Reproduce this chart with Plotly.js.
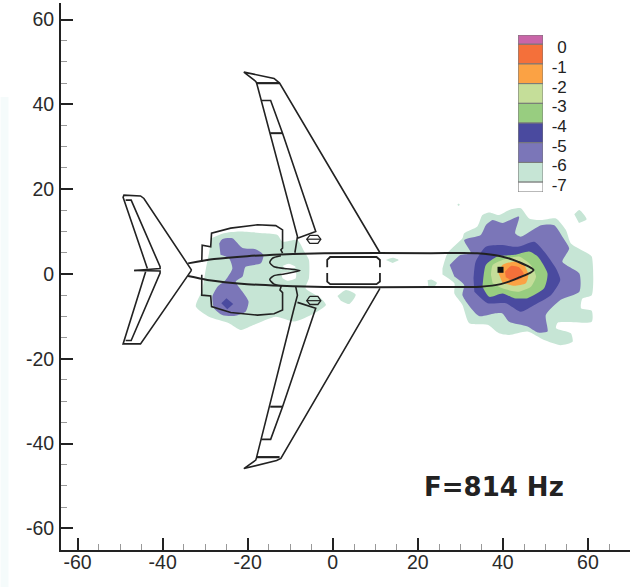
<!DOCTYPE html>
<html><head><meta charset="utf-8">
<script src="https://cdn.plot.ly/plotly-3.0.1.min.js"></script>
<style>html,body{margin:0;padding:0;background:#fff}#c{width:630px;height:587px}</style>
</head><body><div id="c"></div>
<script>
// ---- contour regions, [x, y] in plot units ----
const nosePale = [[25.8,1.3],[27.0,4.9],[30.5,8.4],[30.9,9.6],[34.0,11.2],[35.2,13.9],[36.8,14.5],[39.1,13.9],[41.5,15.1],[44.2,15.5],[46.2,13.1],[49.0,12.7],[52.5,13.1],[54.8,10.4],[56.0,7.2],[59.9,4.9],[60.9,4.1],[60.9,-5.0],[58.7,-5.8],[58.4,-8.1],[60.9,-8.7],[60.9,-11.3],[52.9,-11.5],[52.5,-12.8],[56.0,-14.0],[56.4,-16.0],[53.6,-16.8],[49.7,-15.6],[45.8,-13.6],[41.5,-14.4],[39.1,-14.0],[36.4,-12.0],[32.1,-11.6],[30.5,-7.3],[28.6,-4.6],[28.6,-2.2],[25.8,-0.1]];
const nosePatchA = [[56.8,14.1],[58.0,15.1],[59.7,12.9],[57.9,12.0]];
const nosePatchB = [[22.3,-1.5],[23.2,-1.3],[24.5,-2.1],[24.0,-2.9],[22.5,-3.2]];
const nosePatchC = [[29.3,16.3],[29.6,16.6],[29.9,16.3],[29.6,16.0]];
const tailPale = [[-28.5,8.4],[-25.6,9.6],[-22.0,10.0],[-16.2,9.6],[-13.0,9.2],[-11.8,7.6],[-8.3,8.0],[-6.7,5.3],[-5.6,3.3],[-5.6,-1.0],[-6.4,-3.4],[-2.8,-5.7],[-1.6,-7.3],[-4.4,-9.3],[-9.1,-11.2],[-13.4,-10.1],[-18.5,-12.0],[-21.6,-13.2],[-24.4,-11.6],[-29.1,-10.1],[-32.2,-7.7],[-30.7,-3.8],[-29.9,0.9],[-29.1,4.9]];
const bodyPatchA = [[1.1,-5.2],[3.1,-3.8],[5.4,-4.9],[3.9,-7.1],[1.9,-6.3]];
const bodyPatchB = [[12.5,3.3],[14.1,3.8],[15.5,3.3],[14.1,2.6]];
const holeA = [[-11.8,1.9],[-10.3,2.4],[-8.7,1.6],[-10.7,0.9]];
const holeB = [[-12.2,0.2],[-8.7,0.5],[-8.7,-1.0],[-10.7,-1.6],[-11.8,-1.0]];
const nosePurple = [[27.5,2.1],[30.1,4.5],[32.5,4.9],[30.9,8.0],[34.8,9.2],[36.0,11.5],[37.6,12.7],[39.9,12.0],[43.8,13.5],[42.9,9.6],[44.2,8.8],[49.0,11.5],[52.1,11.5],[54.0,8.8],[55.6,6.0],[54.0,2.9],[58.0,0.1],[58.0,-4.2],[53.6,-6.1],[50.1,-9.7],[50.5,-13.6],[48.2,-13.8],[45.8,-12.4],[41.5,-11.3],[39.9,-9.3],[38.0,-9.3],[34.4,-9.9],[30.5,-5.0],[30.9,-2.6],[28.6,-0.6]];
const tailPurple = [[-26.7,7.2],[-26.0,8.2],[-23.6,8.4],[-21.2,6.1],[-18.1,5.8],[-16.3,4.5],[-16.9,2.5],[-20.5,1.7],[-21.2,-0.6],[-22.8,-1.8],[-21.2,-4.2],[-19.8,-6.5],[-20.5,-8.9],[-23.2,-9.9],[-26.0,-9.7],[-27.9,-8.1],[-28.3,-5.3],[-27.1,-3.0],[-25.2,-1.4],[-23.6,1.3],[-24.4,3.7],[-26.4,4.5]];
const noseIndigo = [[33.1,-1.0],[33.6,2.9],[36.0,6.4],[39.5,6.8],[43.5,6.4],[47.4,7.6],[49.7,5.3],[52.5,1.3],[53.5,-1.4],[51.3,-5.0],[47.4,-7.3],[44.2,-8.9],[40.7,-6.9],[36.4,-6.9],[33.3,-4.2]];
const tailIndigo = [[-26.2,-6.9],[-25.0,-5.7],[-23.4,-7.1],[-24.8,-8.3]];
const noseGreen = [[35.4,-1.0],[36.0,2.1],[38.7,4.1],[42.7,4.5],[46.2,5.3],[48.2,4.1],[50.5,0.1],[49.7,-3.4],[45.8,-5.7],[42.7,-5.7],[39.9,-4.6],[36.8,-5.4],[35.2,-3.0]];
const noseLime = [[37.2,-0.2],[37.6,2.1],[39.9,3.3],[43.8,4.1],[46.6,2.1],[47.8,-0.6],[46.6,-3.0],[43.5,-4.2],[39.9,-3.4],[37.6,-2.2]];
const noseOrange = [[39.0,0.1],[39.9,2.1],[42.7,2.9],[45.0,2.1],[46.0,-0.2],[45.4,-2.2],[42.7,-2.8],[39.9,-2.1]];
const noseRed = [[40.5,0.5],[41.9,1.9],[43.8,1.6],[44.9,0.1],[44.4,-1.0],[42.3,-1.6],[40.7,-0.8]];
const sensorPoint = [[39.45,0.98]];

// ---- aircraft outline, [x, y] in plot units ----
const fuselage = [[-34.0,2.5],[-27.9,3.5],[-20.1,4.2],[-12.2,4.6],[-2.0,4.9],[23.1,4.9],[34.0,4.9],[39.5,4.2],[43.5,2.9],[47.2,0.9],[43.5,-1.0],[39.5,-2.4],[34.8,-3.0],[23.1,-3.1],[-2.0,-3.1],[-12.2,-2.8],[-20.1,-2.4],[-29.5,-1.4],[-34.0,-0.5]];
const upperWing = [[11.1,5.0],[-12.5,45.0],[-13.8,46.1],[-20.9,47.6],[-18.1,45.4],[-17.9,45.0],[-8.3,8.8],[-8.9,5.0]];
const upperWingBar = [[-17.9,45.0],[-12.5,45.0]];
const upperFlap = [[-16.8,40.9],[-14.6,40.9],[-11.8,33.2],[-4.0,10.0],[-8.3,8.4]];
const upperFlapBar = [[-14.7,33.2],[-11.8,33.2]];
const lowerWing = [[11.1,-3.4],[-12.2,-43.5],[-13.2,-44.0],[-20.9,-45.9],[-18.1,-43.9],[-17.9,-43.2],[-9.2,-8.5],[-8.3,-5.0],[-8.7,-3.0]];
const lowerWingBar = [[-17.9,-43.2],[-12.5,-43.2]];
const lowerFlap = [[-8.3,-6.7],[-4.0,-8.1],[-11.8,-31.3],[-14.6,-39.0],[-16.8,-39.0]];
const lowerFlapBar = [[-14.7,-31.3],[-11.8,-31.3]];
const upperPod = [[-5.4,9.1],[-3.5,9.1],[-2.8,8.2],[-3.5,7.2],[-5.4,7.2],[-6.1,8.2],[-5.4,9.1]];
const upperPodMid = [[-6.1,8.2],[-2.8,8.2]];
const lowerPod = [[-5.4,-5.3],[-3.5,-5.3],[-2.8,-6.3],[-3.5,-7.2],[-5.4,-7.2],[-6.1,-6.3],[-5.4,-5.3]];
const lowerPodMid = [[-6.1,-6.3],[-2.8,-6.3]];
const upperFin = [[-33.2,0.9],[-44.4,17.8],[-45.2,18.4],[-49.1,18.6],[-49.3,18.1],[-43.6,1.3]];
const upperFinInner = [[-48.7,17.4],[-47.4,17.4],[-40.6,1.7],[-40.6,1.3],[-46.7,0.8]];
const lowerFin = [[-33.2,0.9],[-44.4,-15.6],[-45.2,-16.5],[-49.3,-16.5],[-44.0,0.5]];
const lowerFinInner = [[-48.7,-15.7],[-47.4,-15.7],[-40.6,0.2],[-40.6,0.7],[-46.7,0.8]];
const pylon = [[-12.2,4.3],[-14.2,3.7],[-14.8,2.7],[-13.8,1.7],[-11.4,1.3],[-7.7,0.8],[-11.4,0],[-13.8,-0.4],[-14.8,-1.3],[-13.8,-2.4],[-12.2,-2.8]];
const upperEngine = [[-11.8,4.9],[-12.2,5.7],[-11.8,6.1],[-11.8,10.4],[-13.4,11.4],[-17.7,11.6],[-24.0,10.8],[-28.5,9.6],[-28.7,6.4],[-30.7,6.8],[-30.8,2.9]];
const lowerEngine = [[-30.8,-0.2],[-30.8,-5.0],[-28.7,-5.2],[-28.5,-7.7],[-24.0,-9.1],[-17.7,-9.7],[-13.8,-9.4],[-11.8,-8.5],[-11.8,-4.4],[-12.4,-3.8],[-12.1,-2.8]];
const cabinTop = [[-1.3,1.6],[-1.3,3.3],[-0.6,4.0],[10.3,4.0],[11.1,3.3],[11.1,1.6]];
const cabinBottom = [[-1.3,0.2],[-1.3,-1.8],[-0.6,-2.4],[10.3,-2.4],[11.1,-1.8],[11.1,0.2]];

// ---- axes and legend values ----
const majorTicks = [-60,-40,-20,0,20,40,60];
const majorLabels = ['-60','-40','-20','0','20','40','60'];
const levelColorsAll = ['#c965a8','#f4703a','#fba244','#c5de99','#98cd80','#4a4a9f','#7b76b8','#c6e5d5','#ffffff'];
const legendBase = [0,-1,-2,-3,-4,-5,-6,-7,-7.5];
const legendSpan = [0.47,1,1,1,1,1,1,1,0.5];
const legendTicks = [0,-1,-2,-3,-4,-5,-6,-7];
const legendLabels = ['0','-1','-2','-3','-4','-5','-6','-7'];
const caption = 'F=814 Hz';

const [RED,ORANGE,LIME,GREEN,INDIGO,PURPLE,PALE] = ['#f4703a','#fba244','#c5de99','#98cd80','#4a4a9f','#7b76b8','#c6e5d5'];
const INK = '#222222';

function region(pts,color,shape){
  return {x:pts.map(p=>p[0]),y:pts.map(p=>p[1]),mode:'lines',fill:'toself',fillcolor:color,
    line:{color:color,width:0,shape:shape||'spline',smoothing:0.6},hoverinfo:'skip',showlegend:false};
}
function outline(pts,w,shape){
  return {x:pts.map(p=>p[0]),y:pts.map(p=>p[1]),mode:'lines',
    line:{color:INK,width:w||1.6,shape:shape||'linear',smoothing:0.7},hoverinfo:'skip',showlegend:false};
}
const traces = [
  region(nosePale,PALE),region(nosePatchA,PALE),region(nosePatchB,PALE),region(nosePatchC,PALE,'linear'),
  region(tailPale,PALE),region(bodyPatchA,PALE),region(bodyPatchB,PALE),
  region(holeA,'#ffffff'),region(holeB,'#ffffff'),
  region(nosePurple,PURPLE),region(tailPurple,PURPLE),
  region(noseIndigo,INDIGO),region(tailIndigo,INDIGO,'linear'),
  region(noseGreen,GREEN),region(noseLime,LIME),region(noseOrange,ORANGE),region(noseRed,RED),
  outline(fuselage,2,'spline'),
  outline(upperWing),outline(upperWingBar,2.2),outline(upperFlap),outline(upperFlapBar,2),
  outline(lowerWing),outline(lowerWingBar,2.2),outline(lowerFlap),outline(lowerFlapBar,2),
  outline(upperPod,1.3),outline(upperPodMid,1.2),outline(lowerPod,1.3),outline(lowerPodMid,1.2),
  outline(upperFin),outline(upperFinInner),outline(lowerFin),outline(lowerFinInner),
  outline(pylon,1.6,'spline'),outline(upperEngine),outline(lowerEngine),
  outline(cabinTop,1.8),outline(cabinBottom,1.8),
  {x:sensorPoint.map(p=>p[0]),y:sensorPoint.map(p=>p[1]),mode:'markers',
   marker:{symbol:'square',size:6,color:'#111111'},hoverinfo:'skip',showlegend:false},
  {type:'bar',xaxis:'x2',yaxis:'y2',orientation:'v',x:legendBase.map(()=>0),y:legendSpan,base:legendBase,width:1,
   marker:{color:levelColorsAll,line:{color:'#777777',width:1}},hoverinfo:'skip',showlegend:false}
];
const tickFont = {family:'"Liberation Sans",Arial,sans-serif',size:19.5,color:'#2a2a2a'};
const axisCommon = {tickmode:'array',tickvals:majorTicks,ticktext:majorLabels,ticks:'inside',ticklen:12,tickwidth:2,tickcolor:INK,
  showline:true,linecolor:INK,linewidth:2,showgrid:false,zeroline:false,tickfont:tickFont,
  minor:{ticks:'inside',dtick:5,tick0:0,ticklen:6,tickwidth:1,tickcolor:'#999999',showgrid:false}};
const layout = {
  width:630,height:587,margin:{l:60.5,r:0,t:3,b:37,pad:0},paper_bgcolor:'#ffffff',plot_bgcolor:'#ffffff',
  showlegend:false,
  xaxis:Object.assign({},axisCommon,{range:[-63.9,69.9],domain:[0,1],anchor:'y',ticklabelstandoff:-6}),
  yaxis:Object.assign({},axisCommon,{range:[-65.1,63.9],domain:[0,1],anchor:'x',ticklabelstandoff:1}),
  xaxis2:{domain:[0.8033,0.8472],anchor:'y2',range:[-0.5,0.5],visible:false,fixedrange:true},
  yaxis2:{domain:[0.6545,0.9415],anchor:'free',position:0.889,side:'left',range:[-7.5,0.47],
    tickmode:'array',tickvals:legendTicks,ticktext:legendLabels,ticks:'',showline:false,showgrid:false,zeroline:false,
    tickfont:{family:'"Liberation Sans",Arial,sans-serif',size:17,color:'#222222'},ticklabelshift:3},
  shapes:[{type:'rect',layer:'below',xref:'paper',yref:'paper',x0:-0.1062,x1:-0.0922,y0:-0.0676,y1:0.828,
    fillcolor:'#f5fbfb',line:{width:0}}],
  annotations:[{x:21.0,y:-50.2,xref:'x',yref:'y',xanchor:'left',yanchor:'middle',showarrow:false,text:caption,
    font:{family:'"DejaVu Sans",sans-serif',size:26,weight:700,color:'#222222'}}]
};
Plotly.newPlot('c',traces,layout,{staticPlot:true,displayModeBar:false});
</script></body></html>
